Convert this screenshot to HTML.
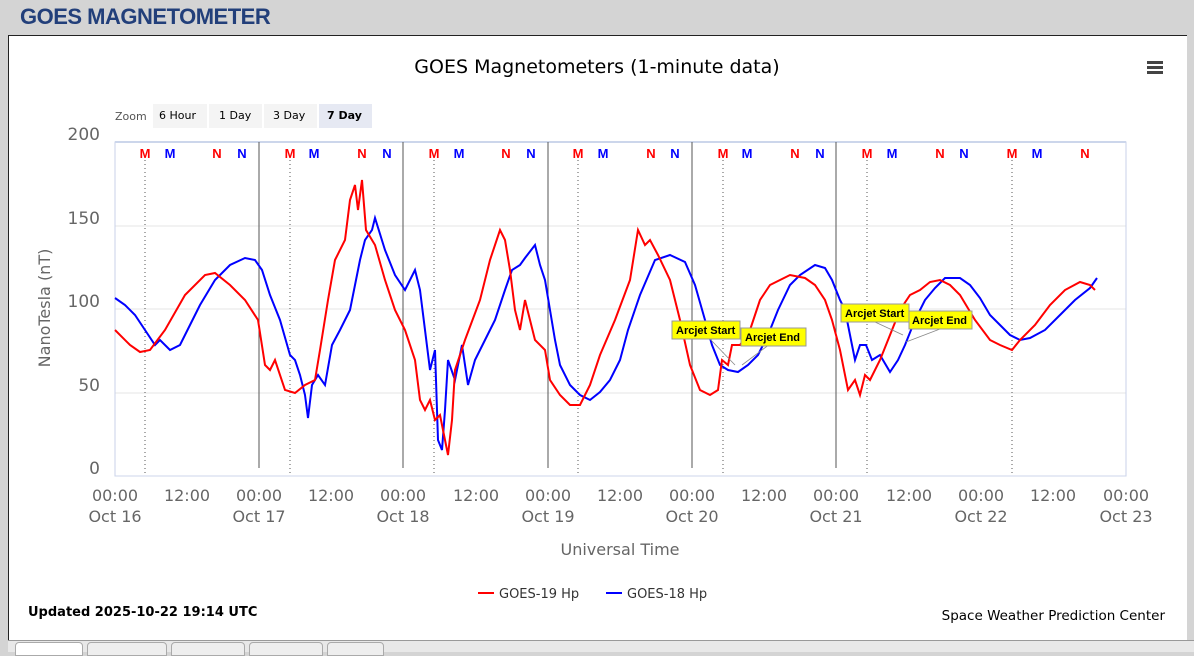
<!DOCTYPE html><html><head><style>
body{margin:0;width:1194px;height:651px;background:#d4d4d4;font-family:"Liberation Sans",sans-serif;overflow:hidden;position:relative}
.h{position:absolute;left:20px;top:4px;font-size:22px;font-weight:bold;color:#223f7a;letter-spacing:-0.5px}
.p{position:absolute;left:8px;top:35px;width:1178px;height:604px;background:#fff;border:1px solid #222;border-right:none}
.t{position:absolute;top:642px;height:12px;background:#eee;border:1px solid #aaa;border-radius:4px 4px 0 0}
</style></head><body>
<div class="h">GOES MAGNETOMETER</div>
<div class="p"></div>
<div style="position:absolute;left:8px;top:640px;width:1186px;height:11px;background:#e8e8e8;border-top:1px solid #999"></div>
<div class="t" style="left:15px;width:66px;background:#fff"></div><div class="t" style="left:87px;width:78px"></div><div class="t" style="left:171px;width:72px"></div><div class="t" style="left:249px;width:72px"></div><div class="t" style="left:327px;width:55px"></div>
<svg width="1194" height="651" style="position:absolute;left:0;top:0" font-family="DejaVu Sans, sans-serif">
<text x="597" y="73" text-anchor="middle" font-size="19" fill="#000">GOES Magnetometers (1-minute data)</text>
<g fill="#444"><rect x="1147" y="61" width="16" height="3"/><rect x="1147" y="66" width="16" height="3"/><rect x="1147" y="71" width="16" height="3"/></g>
<text x="115" y="120" font-size="11" fill="#555">Zoom</text>
<rect x="153" y="104" width="54" height="24" fill="#f4f4f4"/><text x="159" y="119" font-size="11">6 Hour</text>
<rect x="209" y="104" width="53" height="24" fill="#f4f4f4"/><text x="219" y="119" font-size="11">1 Day</text>
<rect x="264" y="104" width="53" height="24" fill="#f4f4f4"/><text x="273" y="119" font-size="11">3 Day</text>
<rect x="319" y="104" width="53" height="24" fill="#e6e9f3"/><text x="327" y="119" font-size="11" font-weight="bold">7 Day</text>
<g stroke="#e6e6e6"><line x1="115" y1="226" x2="1126" y2="226"/><line x1="115" y1="309" x2="1126" y2="309"/><line x1="115" y1="393" x2="1126" y2="393"/></g>
<rect x="115" y="142" width="1011" height="334" fill="none" stroke="#c8d2e8"/>
<line x1="115" y1="142" x2="1126" y2="142" stroke="#ccd6eb" stroke-width="2"/>
<line x1="115" y1="476" x2="1126" y2="476" stroke="#ccd6eb"/>
<g font-size="17" fill="#666" text-anchor="end"><text x="100" y="140">200</text><text x="100" y="224">150</text><text x="100" y="307">100</text><text x="100" y="391">50</text><text x="100" y="474">0</text></g>
<text transform="translate(50,308) rotate(-90)" text-anchor="middle" font-size="16" fill="#666">NanoTesla (nT)</text>
<g stroke="#555"><line x1="259" y1="142" x2="259" y2="468"/><line x1="403" y1="142" x2="403" y2="468"/><line x1="548" y1="142" x2="548" y2="468"/><line x1="692" y1="142" x2="692" y2="468"/><line x1="836" y1="142" x2="836" y2="468"/></g>
<g stroke="#555" stroke-dasharray="1,3"><line x1="145" y1="160" x2="145" y2="476"/><line x1="290" y1="160" x2="290" y2="476"/><line x1="434" y1="160" x2="434" y2="476"/><line x1="578" y1="160" x2="578" y2="476"/><line x1="723" y1="160" x2="723" y2="476"/><line x1="867" y1="160" x2="867" y2="476"/><line x1="1012" y1="160" x2="1012" y2="476"/></g>
<g font-size="13" font-weight="bold" text-anchor="middle" font-family="Liberation Sans, sans-serif">
<g fill="#f00"><text x="145" y="158">M</text><text x="290" y="158">M</text><text x="434" y="158">M</text><text x="578" y="158">M</text><text x="723" y="158">M</text><text x="867" y="158">M</text><text x="1012" y="158">M</text>
<text x="217" y="158">N</text><text x="362" y="158">N</text><text x="506" y="158">N</text><text x="651" y="158">N</text><text x="795" y="158">N</text><text x="940" y="158">N</text><text x="1085" y="158">N</text></g>
<g fill="#00f"><text x="170" y="158">M</text><text x="314" y="158">M</text><text x="459" y="158">M</text><text x="603" y="158">M</text><text x="747" y="158">M</text><text x="892" y="158">M</text><text x="1037" y="158">M</text>
<text x="242" y="158">N</text><text x="387" y="158">N</text><text x="531" y="158">N</text><text x="675" y="158">N</text><text x="820" y="158">N</text><text x="964" y="158">N</text></g></g>
<polyline fill="none" stroke="#00f" stroke-width="2" points="115,298 125,305 135,315 145,330 155,345 160,340 170,350 180,345 190,325 200,305 215,280 230,265 245,258 255,260 262,270 270,295 280,320 290,355 295,360 300,375 305,395 308,418 312,385 318,375 325,385 332,345 340,330 350,310 360,260 365,240 372,230 375,218 385,250 395,275 405,290 415,270 420,290 425,330 430,370 435,350 438,440 442,450 445,410 448,360 455,380 462,345 468,385 475,360 485,340 495,320 505,290 512,270 520,265 525,258 535,245 540,265 545,280 550,310 555,340 560,365 570,385 580,395 590,400 600,392 610,380 620,360 628,330 640,295 655,260 670,255 685,262 695,285 705,320 712,345 720,365 728,370 738,372 748,365 758,355 768,335 778,310 790,285 800,275 815,265 825,268 832,280 840,300 845,310 850,335 855,360 860,345 866,345 872,360 880,355 890,372 898,360 905,345 915,320 925,300 935,288 945,278 960,278 970,285 980,298 990,315 1000,325 1010,335 1020,340 1030,338 1045,330 1060,315 1075,300 1090,288 1097,278"/>
<polyline fill="none" stroke="#f00" stroke-width="2" points="115,330 130,345 140,352 150,350 165,330 185,295 205,275 215,273 230,285 245,300 258,320 265,365 270,370 275,360 285,390 295,393 305,385 315,380 320,350 328,300 335,260 345,240 350,200 355,185 358,210 362,180 366,230 375,245 385,280 395,310 405,330 415,360 420,400 425,410 430,400 435,420 440,415 445,440 448,455 452,420 455,370 465,340 480,300 490,260 500,230 505,240 510,270 515,310 520,330 525,300 535,340 545,350 550,380 560,395 570,405 580,405 590,385 600,355 615,320 630,280 638,230 645,245 650,240 658,255 670,280 680,320 690,365 700,390 710,395 718,390 722,360 728,365 732,345 740,345 750,330 760,300 770,285 780,280 790,275 805,278 815,285 825,300 832,320 840,350 848,390 855,380 860,395 865,375 870,380 880,360 890,335 900,310 910,295 920,290 930,282 940,280 950,285 960,295 975,320 990,340 1000,345 1012,350 1020,340 1035,325 1050,305 1065,290 1080,282 1090,285 1095,290"/>
<g stroke="#888" stroke-width="0.8"><line x1="710" y1="339" x2="735" y2="365"/><line x1="770" y1="344" x2="742" y2="365"/><line x1="875" y1="322" x2="903" y2="335"/><line x1="940" y1="329" x2="906" y2="342"/></g>
<g font-size="11" font-weight="bold" font-family="Liberation Sans, sans-serif"><rect x="672" y="321" width="68" height="18" fill="#ff0" stroke="#999"/><text x="676" y="334">Arcjet Start</text>
<rect x="741" y="328" width="65" height="18" fill="#ff0" stroke="#999"/><text x="745" y="341">Arcjet End</text>
<rect x="841" y="304" width="68" height="18" fill="#ff0" stroke="#999"/><text x="845" y="317">Arcjet Start</text>
<rect x="909" y="311" width="63" height="18" fill="#ff0" stroke="#999"/><text x="912" y="324">Arcjet End</text></g>
<g font-size="16" fill="#666" text-anchor="middle">
<text x="115" y="501">00:00</text><text x="115" y="522">Oct 16</text><text x="187" y="501">12:00</text>
<text x="259" y="501">00:00</text><text x="259" y="522">Oct 17</text><text x="331" y="501">12:00</text>
<text x="403" y="501">00:00</text><text x="403" y="522">Oct 18</text><text x="476" y="501">12:00</text>
<text x="548" y="501">00:00</text><text x="548" y="522">Oct 19</text><text x="620" y="501">12:00</text>
<text x="692" y="501">00:00</text><text x="692" y="522">Oct 20</text><text x="764" y="501">12:00</text>
<text x="836" y="501">00:00</text><text x="836" y="522">Oct 21</text><text x="909" y="501">12:00</text>
<text x="981" y="501">00:00</text><text x="981" y="522">Oct 22</text><text x="1053" y="501">12:00</text>
<text x="1126" y="501">00:00</text><text x="1126" y="522">Oct 23</text>
<text x="620" y="555">Universal Time</text></g>
<line x1="478" y1="593" x2="494" y2="593" stroke="#f00" stroke-width="2"/><text x="499" y="598" font-size="13" fill="#333">GOES-19 Hp</text>
<line x1="606" y1="593" x2="622" y2="593" stroke="#00f" stroke-width="2"/><text x="627" y="598" font-size="13" fill="#333">GOES-18 Hp</text>
<text x="28" y="616" font-size="13" font-weight="bold">Updated 2025-10-22 19:14 UTC</text>
<text x="1165" y="620" font-size="13.5" text-anchor="end">Space Weather Prediction Center</text>
</svg></body></html>
